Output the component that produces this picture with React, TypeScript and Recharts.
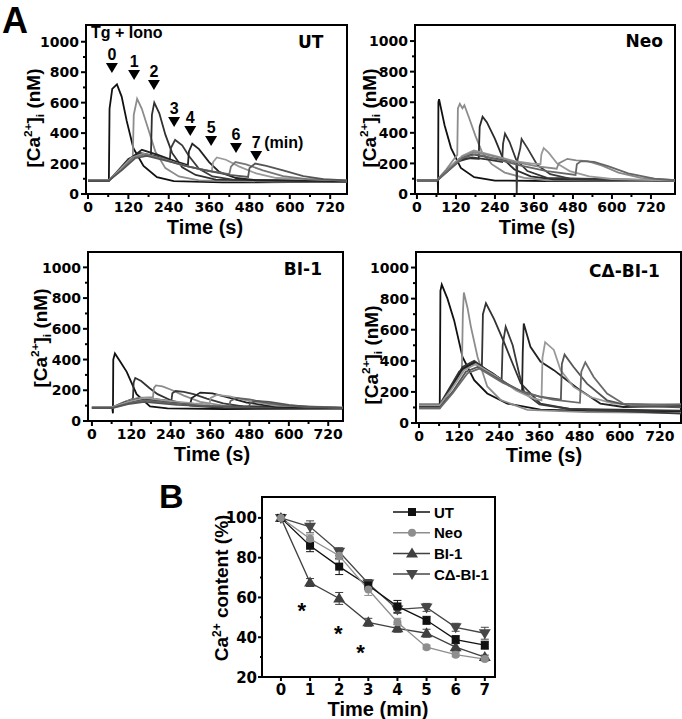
import React from 'react';
import { ComposedChart, Line, XAxis, YAxis, ReferenceArea, ReferenceDot, ErrorBar, Legend } from 'recharts';

const SANS = '"Liberation Sans", Arial, Helvetica, sans-serif';
const WIDE = '"DejaVu Sans", Verdana, sans-serif';
type Pt = [number, number];

// ---------------- Panel A : [Ca2+]i traces (time s, nM) ----------------
const utTraces: Pt[][] = [
  [[0,88],[62,88],[64,560],[72,690],[86,720],[100,640],[115,480],[135,300],[165,185],[205,110],[255,85],[400,76],[600,78],[770,78]],
  [[0,90],[62,90],[90,150],[120,215],[133,235],[136,520],[146,625],[160,560],[180,420],[200,280],[230,170],[270,115],[330,90],[550,82],[770,80]],
  [[0,88],[62,88],[90,155],[120,230],[150,265],[187,250],[190,520],[197,600],[212,530],[230,390],[250,270],[280,175],[320,125],[380,95],[770,82]],
  [[0,90],[62,90],[90,150],[120,225],[155,270],[200,250],[243,220],[246,300],[259,355],[280,320],[300,250],[330,165],[370,115],[430,95],[770,85]],
  [[0,88],[62,88],[95,155],[125,230],[160,290],[210,255],[260,215],[297,190],[300,280],[310,330],[330,295],[360,210],[390,145],[440,105],[500,90],[770,85]],
  [[0,92],[62,92],[95,160],[130,240],[165,265],[220,230],[280,190],[330,165],[368,150],[372,210],[383,240],[410,225],[450,180],[500,135],[560,105],[770,88]],
  [[0,90],[62,90],[100,160],[135,240],[170,260],[230,225],[290,185],[350,155],[420,130],[425,180],[438,210],[470,195],[520,155],[580,118],[650,98],[770,88]],
  [[0,88],[62,88],[100,155],[140,235],[175,250],[240,215],[300,180],[360,150],[420,125],[476,112],[480,170],[497,200],[530,185],[580,155],[640,118],[700,98],[770,90]],
];
const utColors = ['#111111', '#8c8c8c', '#303030', '#3a3a3a', '#222222', '#9a9a9a', '#777777', '#555555'];

const neoTraces: Pt[][] = [
  [[0,90],[64,90],[65,5],[66,600],[68,620],[85,450],[105,300],[135,170],[176,110],[240,88],[400,85],[794,85]],
  [[0,92],[62,92],[90,160],[118,240],[124,255],[126,560],[132,590],[140,560],[146,580],[160,500],[180,380],[200,275],[230,195],[270,140],[330,105],[400,90],[794,85]],
  [[0,90],[62,90],[90,150],[120,210],[150,235],[190,230],[193,440],[202,505],[215,470],[240,360],[265,230],[300,160],[350,115],[420,95],[794,88]],
  [[0,88],[62,88],[95,150],[130,215],[170,240],[220,225],[262,210],[265,330],[271,395],[285,340],[305,225],[340,150],[400,105],[794,88]],
  [[0,90],[62,90],[95,160],[130,230],[170,260],[230,235],[290,215],[306,205],[307,0],[309,220],[318,300],[322,360],[340,300],[370,190],[410,130],[470,100],[794,88]],
  [[0,90],[62,90],[100,170],[140,250],[175,285],[240,250],[300,215],[350,200],[380,195],[383,260],[390,300],[405,270],[431,200],[470,150],[530,115],[600,98],[794,88]],
  [[0,92],[62,92],[100,165],[140,245],[175,275],[240,245],[300,210],[370,180],[430,165],[436,200],[463,230],[490,220],[525,215],[570,185],[620,140],[689,105],[794,90]],
  [[0,90],[62,90],[100,160],[140,235],[180,260],[250,225],[320,185],[400,150],[488,125],[492,195],[505,215],[545,210],[590,180],[650,135],[730,100],[794,90]],
];
const neoColors = ['#111111', '#8c8c8c', '#2a2a2a', '#333333', '#3a3a3a', '#999999', '#888888', '#666666'];

const bi1Traces: Pt[][] = [
  [[0,85],[62,85],[64,50],[65,400],[70,440],[85,390],[106,320],[136,175],[177,95],[230,82],[400,78],[765,80]],
  [[0,88],[62,88],[95,120],[125,145],[127,250],[132,280],[150,260],[175,215],[200,175],[240,135],[300,100],[400,85],[765,82]],
  [[0,90],[62,90],[100,125],[140,150],[186,155],[189,215],[195,232],[215,225],[245,200],[280,165],[330,125],[400,100],[765,85]],
  [[0,86],[62,86],[100,120],[145,145],[200,140],[242,130],[245,180],[255,195],[280,190],[310,175],[350,145],[400,115],[460,95],[765,85]],
  [[0,88],[62,88],[100,120],[150,140],[220,125],[300,115],[304,150],[330,185],[367,180],[420,150],[472,120],[560,92],[765,85]],
  [[0,90],[62,90],[110,125],[160,150],[240,130],[310,115],[358,108],[362,150],[380,170],[420,160],[480,130],[560,100],[765,88]],
  [[0,86],[62,86],[110,115],[160,135],[250,115],[340,100],[418,95],[422,130],[440,150],[480,140],[540,115],[600,98],[765,85]],
  [[0,84],[62,84],[110,110],[160,125],[260,105],[360,95],[478,90],[482,115],[500,130],[540,125],[600,105],[660,92],[765,85]],
];
const bi1Colors = ['#111111', '#333333', '#8c8c8c', '#3a3a3a', '#222222', '#999999', '#666666', '#555555'];

const cdTraces: Pt[][] = [
  [[0,110],[62,110],[64,850],[68,890],[85,800],[105,660],[130,425],[165,275],[204,190],[264,125],[363,86],[500,78],[783,75]],
  [[0,95],[62,95],[90,200],[118,300],[128,330],[131,700],[134,840],[145,740],[155,620],[175,425],[204,235],[244,148],[324,85],[500,70],[783,65]],
  [[0,120],[62,120],[90,220],[120,330],[160,380],[188,370],[191,700],[200,770],[224,670],[254,520],[284,360],[304,255],[363,125],[450,90],[783,80]],
  [[0,100],[62,100],[95,230],[130,360],[165,400],[210,330],[247,280],[250,500],[259,620],[280,500],[300,310],[315,195],[360,120],[450,90],[783,60]],
  [[0,105],[62,105],[95,220],[130,350],[165,390],[220,320],[270,240],[308,200],[310,450],[313,640],[333,490],[363,395],[403,340],[442,275],[482,210],[542,125],[611,103],[783,110]],
  [[0,115],[62,115],[95,210],[135,340],[170,380],[230,300],[290,210],[340,160],[366,145],[369,420],[377,520],[403,470],[423,340],[462,232],[512,167],[581,124],[783,120]],
  [[0,100],[62,100],[100,200],[140,330],[175,360],[240,280],[300,210],[360,170],[424,150],[427,380],[435,440],[462,360],[502,253],[562,146],[630,110],[783,100]],
  [[0,95],[62,95],[100,190],[145,320],[180,350],[250,260],[320,190],[400,150],[481,130],[485,330],[497,390],[522,296],[562,189],[611,124],[700,115],[783,120]],
];
const cdColors = ['#111111', '#8c8c8c', '#333333', '#3a3a3a', '#222222', '#999999', '#555555', '#6a6a6a'];

const traceXMajor = [0, 120, 240, 360, 480, 600, 720];
const traceXMinor = [60, 180, 300, 420, 540, 660];
const traceYMajor = [0, 200, 400, 600, 800, 1000];
const traceYMinor = [100, 300, 500, 700, 900];

// Tg + Iono addition markers (UT panel)
const arrowTimes = [71, 137, 196, 256, 304, 366, 440, 500];
const arrowLevels = [860, 814, 749, 506, 447, 381, 335, 282];
const arrowLabels = ['0', '1', '2', '3', '4', '5', '6', '7'];
const arrowSuffix = '(min)';

// ---------------- Panel B : Ca2+ content (%) ----------------
const bTimes = [0, 1, 2, 3, 4, 5, 6, 7];
const bUT = [100, 86, 75.5, 66, 55.5, 48.5, 38.8, 36];
const bUTErr = [0, 3, 4, 2, 3, 2, 2, 2];
const bNeo = [100, 89.5, 81, 64, 47.5, 35, 31.2, 29];
const bNeoErr = [0, 2, 2, 3, 2, 1, 1, 1];
const bBI1 = [100, 67.5, 59.5, 47.5, 44.5, 42, 35, 30];
const bBI1Err = [0, 2, 3, 2, 2, 2, 2, 1];
const bCD = [100, 95.5, 83, 67, 54, 55, 45, 42];
const bCDErr = [0, 3, 2, 2, 2, 2, 2, 3];
const bStars: Pt[] = [[0.72, 55.5], [1.97, 44], [2.73, 34.5]];
const bXTicks = [0, 1, 2, 3, 4, 5, 6, 7];
const bYMajor = [20, 40, 60, 80, 100];
const bYMinor = [30, 50, 70, 90];

// ---------------- helpers ----------------
const xTick = (majors: number[], fs: number, dy: number, len: number) => (p: any) => {
  const v = p.payload.value;
  const major = majors.indexOf(v) >= 0;
  return (
    <g>
      <line x1={p.x} x2={p.x} y1={p.y} y2={p.y + (major ? len : len - 2)} stroke="#000" strokeWidth={2} />
      {major ? (
        <text x={p.x} y={p.y + dy} textAnchor="middle" fontFamily={WIDE} fontWeight="bold" fontSize={fs} fill="#000">{v}</text>
      ) : null}
    </g>
  );
};

const yTick = (majors: number[], fs: number, gap: number, len: number) => (p: any) => {
  const v = p.payload.value;
  const major = majors.indexOf(v) >= 0;
  return (
    <g>
      <line x1={p.x} x2={p.x - (major ? len : len - 2)} y1={p.y} y2={p.y} stroke="#000" strokeWidth={2} />
      {major ? (
        <text x={p.x - gap} y={p.y} dy="0.37em" textAnchor="end" fontFamily={WIDE} fontWeight="bold" fontSize={fs} fill="#000">{v}</text>
      ) : null}
    </g>
  );
};

const CaTitle = ({ cx, cy, fs }: { cx: number; cy: number; fs: number }) => (
  <text transform={`translate(${cx},${cy}) rotate(-90)`} textAnchor="middle" dy="0.35em" fontFamily={SANS} fontWeight="bold" fontSize={fs} fill="#000">
    [Ca<tspan fontSize={fs * 0.62} dy={-fs * 0.38}>2+</tspan><tspan dy={fs * 0.38}>]</tspan><tspan fontSize={fs * 0.62} dy={fs * 0.22}>i</tspan><tspan dy={-fs * 0.22}> (nM)</tspan>
  </text>
);

interface PanelCfg {
  name: string;
  traces: Pt[][];
  colors: string[];
  left: number; top: number; width: number; height: number;
  mTop: number; mRight: number;
  yW: number; xH: number;
  xDomain: [number, number]; yDomain: [number, number];
  nameAt: Pt;
  yTitle: Pt; xTitle: Pt;
  arrows?: boolean;
}

const panels: PanelCfg[] = [
  { name: 'UT', traces: utTraces, colors: utColors, left: 0, top: 0, width: 350, height: 242, mTop: 25, mRight: 3, yW: 86, xH: 48,
    xDomain: [-6, 770], yDomain: [0, 1110], nameAt: [700, 958], yTitle: [33, 118], xTitle: [205, 234], arrows: true },
  { name: 'Neo', traces: neoTraces, colors: neoColors, left: 341, top: 0, width: 341, height: 242, mTop: 25, mRight: 7, yW: 74, xH: 48,
    xDomain: [-6, 794], yDomain: [0, 1105], nameAt: [757, 962], yTitle: [28, 118], xTitle: [196, 234] },
  { name: 'BI-1', traces: bi1Traces, colors: bi1Colors, left: 0, top: 230, width: 350, height: 238, mTop: 22, mRight: 7, yW: 88, xH: 47,
    xDomain: [-12, 765], yDomain: [0, 1100], nameAt: [701, 950], yTitle: [40, 108], xTitle: [212, 231] },
  { name: 'C\u0394-BI-1', traces: cdTraces, colors: cdColors, left: 341, top: 230, width: 341, height: 238, mTop: 22, mRight: 1, yW: 75, xH: 45,
    xDomain: [-9, 783], yDomain: [0, 1100], nameAt: [720, 938], yTitle: [30, 125], xTitle: [203, 232] },
];

const TraceArrow = ({ cx, cy, label, suffix }: { cx: number; cy: number; label: string; suffix: string }) => (
  <g>
    <polygon points={`${cx - 6},${cy} ${cx + 6},${cy} ${cx},${cy + 10}`} fill="#000" />
    <text x={cx} y={cy - 3} textAnchor="middle" fontFamily={SANS} fontWeight="bold" fontSize={16} fill="#000">{label}</text>
    {suffix ? (
      <text x={cx + 8} y={cy - 3} textAnchor="start" fontFamily={SANS} fontWeight="bold" fontSize={16} fill="#000">{suffix}</text>
    ) : null}
  </g>
);

const TracePanel = ({ cfg }: { cfg: PanelCfg }) => {
  const axisLine = { stroke: '#000', strokeWidth: 2 };
  return (
    <div style={{ position: 'absolute', left: cfg.left, top: cfg.top }}>
      <ComposedChart width={cfg.width} height={cfg.height} margin={{ top: cfg.mTop, right: cfg.mRight, left: 0, bottom: 0 }}>
        <XAxis type="number" dataKey="t" domain={cfg.xDomain} allowDataOverflow ticks={[...traceXMajor, ...traceXMinor].sort((a, b) => a - b)}
          interval={0} height={cfg.xH} tickSize={0} tickMargin={0} tickLine={false} axisLine={axisLine}
          tick={xTick(traceXMajor, 14, 18, 5)}
          label={{ content: () => (
            <text x={cfg.xTitle[0]} y={cfg.xTitle[1]} textAnchor="middle" fontFamily={SANS} fontWeight="bold" fontSize={20} fill="#000">Time (s)</text>
          ) }} />
        <YAxis type="number" domain={cfg.yDomain} allowDataOverflow ticks={[...traceYMajor, ...traceYMinor].sort((a, b) => a - b)}
          interval={0} width={cfg.yW} tickSize={0} tickMargin={0} tickLine={false} axisLine={axisLine}
          tick={yTick(traceYMajor, 14, 7, 5)}
          label={{ content: () => <CaTitle cx={cfg.yTitle[0]} cy={cfg.yTitle[1]} fs={19} /> }} />
        <ReferenceArea x1={cfg.xDomain[0]} x2={cfg.xDomain[1]} y1={cfg.yDomain[0]} y2={cfg.yDomain[1]} fill="none" fillOpacity={0}
          stroke="#000" strokeWidth={2} strokeOpacity={1} ifOverflow="visible" />
        {cfg.traces.map((tr, i) => (
          <Line key={cfg.name + i} data={tr.map(([t, v]) => ({ t, v }))} dataKey="v" type="linear" stroke={cfg.colors[i]}
            strokeWidth={1.8} dot={false} activeDot={false} isAnimationActive={false} />
        ))}
        <ReferenceDot x={cfg.nameAt[0]} y={cfg.nameAt[1]} r={0} ifOverflow="visible"
          shape={(p: any) => (
            <text x={p.cx} y={p.cy} textAnchor="end" fontFamily={WIDE} fontWeight="bold" fontSize={17} fill="#000">{cfg.name}</text>
          )} />
        {cfg.arrows ? (
          <ReferenceDot x={9} y={1024} r={0} ifOverflow="visible"
            shape={(p: any) => (
              <text x={p.cx} y={p.cy} textAnchor="start" fontFamily={SANS} fontWeight="bold" fontSize={16} fill="#000">Tg + Iono</text>
            )} />
        ) : null}
        {cfg.arrows
          ? arrowTimes.map((t, i) => (
              <ReferenceDot key={'arr' + i} x={t} y={arrowLevels[i]} r={0} ifOverflow="visible"
                shape={(p: any) => <TraceArrow cx={p.cx} cy={p.cy} label={arrowLabels[i]} suffix={i === arrowTimes.length - 1 ? arrowSuffix : ''} />} />
            ))
          : null}
      </ComposedChart>
    </div>
  );
};

type MarkerKind = 'square' | 'circle' | 'up' | 'down';
const Marker = ({ kind, cx, cy, color }: { kind: MarkerKind; cx: number; cy: number; color: string }) => {
  if (kind === 'square') return <rect x={cx - 4} y={cy - 4} width={8} height={8} fill={color} />;
  if (kind === 'circle') return <circle cx={cx} cy={cy} r={4} fill={color} />;
  if (kind === 'up') return <polygon points={`${cx},${cy - 6} ${cx + 6},${cy + 4} ${cx - 6},${cy + 4}`} fill={color} />;
  return <polygon points={`${cx - 6},${cy - 4} ${cx + 6},${cy - 4} ${cx},${cy + 6}`} fill={color} />;
};

const bSeries: { name: string; values: number[]; errors: number[]; color: string; kind: MarkerKind }[] = [
  { name: 'UT', values: bUT, errors: bUTErr, color: '#111111', kind: 'square' },
  { name: 'Neo', values: bNeo, errors: bNeoErr, color: '#8e8e8e', kind: 'circle' },
  { name: 'BI-1', values: bBI1, errors: bBI1Err, color: '#404040', kind: 'up' },
  { name: 'C\u0394-BI-1', values: bCD, errors: bCDErr, color: '#474747', kind: 'down' },
];
const bDrawOrder = [3, 2, 0, 1];

const BLegend = () => (
  <svg width={160} height={90} style={{ overflow: 'visible' }}>
    {bSeries.map((s, i) => {
      const y = 12 + i * 20.7;
      return (
        <g key={s.name}>
          <line x1={3} x2={40} y1={y} y2={y} stroke={s.color} strokeWidth={1.5} />
          <Marker kind={s.kind} cx={22} cy={y} color={s.color} />
          <text x={44} y={y + 5.5} fontFamily={SANS} fontWeight="bold" fontSize={15} fill="#000">{s.name}</text>
        </g>
      );
    })}
  </svg>
);

const PanelB = () => {
  const axisLine = { stroke: '#000', strokeWidth: 2 };
  const xDom: [number, number] = [-0.65, 7.35];
  const yDom: [number, number] = [20, 110.5];
  return (
    <div style={{ position: 'absolute', left: 150, top: 470 }}>
      <ComposedChart width={380} height={254} margin={{ top: 27, right: 35, left: 0, bottom: 0 }}>
        <XAxis type="number" dataKey="t" domain={xDom} allowDataOverflow ticks={bXTicks} interval={0} height={47}
          tickSize={0} tickMargin={0} tickLine={false} axisLine={axisLine} tick={xTick(bXTicks, 15, 18, 4)}
          label={{ content: () => (
            <text x={228} y={246} textAnchor="middle" fontFamily={SANS} fontWeight="bold" fontSize={20} fill="#000">Time (min)</text>
          ) }} />
        <YAxis type="number" domain={yDom} allowDataOverflow ticks={[...bYMajor, ...bYMinor].sort((a, b) => a - b)} interval={0} width={112}
          tickSize={0} tickMargin={0} tickLine={false} axisLine={axisLine} tick={yTick(bYMajor, 15, 5, 4)}
          label={{ content: () => (
            <text transform="translate(71,118) rotate(-90)" textAnchor="middle" dy="0.35em" fontFamily={SANS} fontWeight="bold" fontSize={19} fill="#000">
              Ca<tspan fontSize={12} dy={-7}>2+</tspan><tspan dy={7}> content (%)</tspan>
            </text>
          ) }} />
        <ReferenceArea x1={xDom[0]} x2={xDom[1]} y1={yDom[0]} y2={yDom[1]} fill="none" fillOpacity={0}
          stroke="#000" strokeWidth={2} strokeOpacity={1} ifOverflow="visible" />
        {bDrawOrder.map((si) => {
          const s = bSeries[si];
          return (
            <Line key={s.name} name={s.name} data={bTimes.map((t, i) => ({ t, v: s.values[i], e: s.errors[i] }))} dataKey="v"
              type="linear" stroke={s.color} strokeWidth={1.3} isAnimationActive={false} activeDot={false}
              dot={(p: any) => <Marker key={s.name + p.index} kind={s.kind} cx={p.cx} cy={p.cy} color={s.color} />}>
              <ErrorBar dataKey="e" direction="y" width={4} stroke={s.color} strokeWidth={1} />
            </Line>
          );
        })}
        {bStars.map(([t, v], i) => (
          <ReferenceDot key={'star' + i} x={t} y={v} r={0} ifOverflow="visible"
            shape={(p: any) => (
              <text x={p.cx} y={p.cy + 12} textAnchor="middle" fontFamily={SANS} fontWeight="bold" fontSize={22} fill="#000">*</text>
            )} />
        ))}
        <Legend layout="vertical" align="center" verticalAlign="middle"
          wrapperStyle={{ position: 'absolute', left: 240, top: 30, width: 160, height: 90 }} content={() => <BLegend />} />
      </ComposedChart>
    </div>
  );
}

export default function App() {
  return (
    <div style={{ position: 'absolute', left: 0, top: 0, width: 682, height: 719, background: '#fff', overflow: 'hidden' }}>
      {panels.map((cfg) => (
        <TracePanel key={cfg.name} cfg={cfg} />
      ))}
      <PanelB />
      <svg width={682} height={719} style={{ position: 'absolute', left: 0, top: 0, pointerEvents: 'none' }}>
        <text x={2} y={33} fontFamily={SANS} fontWeight="bold" fontSize={36} fill="#000">A</text>
        <text x={159} y={508} fontFamily={SANS} fontWeight="bold" fontSize={34} fill="#000">B</text>
      </svg>
    </div>
  );
}
